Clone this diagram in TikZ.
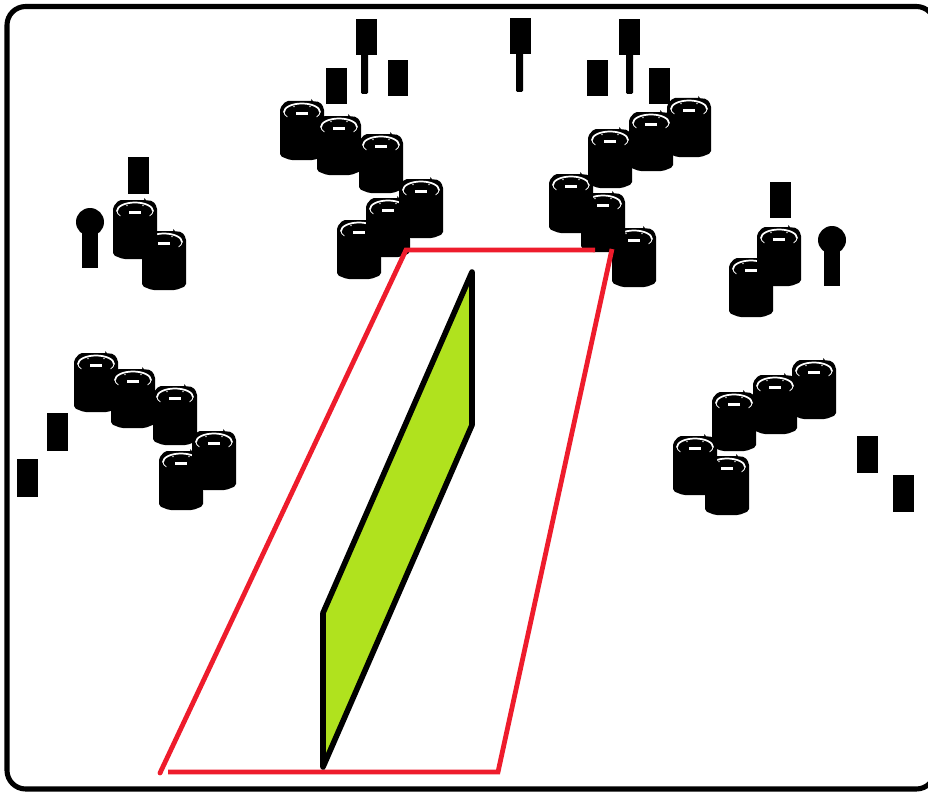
\documentclass[tikz,border=0pt]{standalone}
\definecolor{redline}{RGB}{238,28,44}
\definecolor{greenfill}{RGB}{176,226,30}
\tikzset{
  x=0.75pt,y=-0.75pt,
  ringw/.style={draw=white,line width=1.3pt,line cap=round},
  ringt/.style={draw=white,line width=0.6pt,line cap=round},
  pics/drum/.style={code={
    \fill[black,rounded corners=1.5pt] (-22,8) -- (-22,56) -- (-12,60) -- (12,60) -- (22,56) -- (22,8) -- (18,2) -- (9,1) -- (9,-1) -- (11,1) -- (-16,1) -- cycle;
    \draw[ringw] (-18,12) arc[start angle=180,end angle=360,x radius=18,y radius=8.5];
    \draw[ringt] (-18,12) arc[start angle=180,end angle=145,x radius=18,y radius=8.5];
    \draw[ringt] (18,12) arc[start angle=0,end angle=35,x radius=18,y radius=8.5];
    \fill[white] (-6,11.5) rectangle (6,14.5);
    \fill[white!75!black] (-8,6.5) circle[radius=0.8];
    \fill[white!75!black] (8,6.5) circle[radius=0.8];
  }},
}
\begin{document}
\begin{tikzpicture}
\useasboundingbox (0,0) rectangle (928,792);
\clip (0,0) rectangle (928,792);
\fill[white] (0,0) rectangle (928,792);
\draw[black,line width=3.8pt,rounded corners=14pt] (7,6.5) rectangle (935,789);
% top left
\pic at (359,219) {drum};\pic at (388,197) {drum};\pic at (421,178) {drum};
\pic at (302,100) {drum};\pic at (339,115) {drum};\pic at (381,133) {drum};
% top right
\pic at (634,227) {drum};\pic at (603,192) {drum};\pic at (571,173) {drum};
\pic at (689,97) {drum};\pic at (651,111) {drum};\pic at (610,128) {drum};
% upper sides
\pic at (164,230) {drum};\pic at (135,199) {drum};
\pic at (751,257) {drum};\pic at (779,226) {drum};
% lower left
\pic at (96,352) {drum};\pic at (133,368) {drum};\pic at (175,385) {drum};
\pic at (181,450) {drum};\pic at (214,430) {drum};
% lower right
\pic at (814,359) {drum};\pic at (775,374) {drum};\pic at (734,391) {drum};
\pic at (727,455) {drum};\pic at (695,435) {drum};
% rectangles
\foreach \a/\b/\c/\d in {356/19/377/55,326/68/347/104,388/60/408/96,510/18/531/54,619/19/640/55,587/60/608/96,649/68/670/104,128/157/149/194,770/182/791/218,47/413/68/451,17/459/38/497,857/436/878/473,893/475/914/512}
  \fill[black] (\a,\b) rectangle (\c,\d);
% stems
\foreach \a/\b/\c/\d in {361/50/368/94,516/50/523/92,626/50/633/94}
  \fill[black,rounded corners=1pt] (\a,\b) rectangle (\c,\d);
% lollipops
\fill[black] (90,222) circle[radius=14];\fill[black] (82,225) rectangle (98,268);
\fill[black] (832,240) circle[radius=14];\fill[black] (824,243) rectangle (840,286);
% red
\draw[redline,line width=3.6pt,line join=miter] (160,773) -- (406,250) -- (595,250);
\draw[redline,line width=3.6pt,line join=miter] (612,249) -- (498,772) -- (168,772);
\fill[redline] (160,773) circle[radius=2.4];
% green
\draw[fill=greenfill,draw=black,line width=4.2pt,line join=round] (472,272) -- (472,425) -- (323,767) -- (323,613) -- cycle;
\end{tikzpicture}
\end{document}
